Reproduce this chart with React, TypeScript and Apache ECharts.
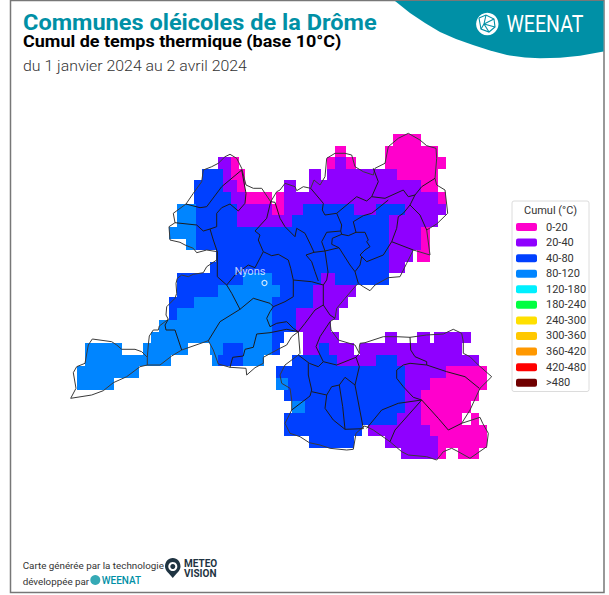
import React, { useEffect, useRef } from "react";
import * as echarts from "echarts";

const classLabels = ["0-20", "20-40", "40-80", "80-120", "120-180", "180-240", "240-300", "300-360", "360-420", "420-480", ">480"];
const classMins = [0, 20, 40, 80, 120, 180, 240, 300, 360, 420, 480];
const classMaxs = [20, 40, 80, 120, 180, 240, 300, 360, 420, 480, 100000];
const classColors = ["#ff00cc", "#8f00ff", "#0040ff", "#0085ff", "#00f0ff", "#00ff40", "#ffe000", "#ffc800", "#ff9800", "#ff0000", "#700000"];
const cellValues: Record<string, number> = { P: 10, V: 30, B: 60, L: 100 };

const cellRows = [
  "154-168P",
  "126-131P 150-176P",
  "69-75V 75-79P 122-126P 126-131V 131-136P 150-180P",
  "61-71B 71-75V 75-82P 113-119V 122-156V 156-176P",
  "57-71B 71-78V 78-82P 101-107V 113-168V 168-176P",
  "57-75B 75-82V 82-95P 97-101P 101-176V 176-180P",
  "49-58L 58-78B 78-95V 95-101P 101-110V 110-135B 135-146V 146-160B 160-180V",
  "49-58L 58-78B 78-105V 105-152B 152-176V",
  "45-58L 58-152B 152-168V 168-172P",
  "53-58L 58-152B 152-168V 168-172P",
  "68-152B 152-164V 166-172P",
  "65-152B 152-160V",
  "49-81B 81-95L 95-119B 119-126V 126-152B",
  "49-69B 69-99L 99-115B 115-136V",
  "45-57B 57-95L 95-115B 115-132V",
  "45-49B 49-95L 95-107B 107-128V",
  "40-95L 95-107B 107-124V",
  "36-95L 95-101B 110-128V 150-156V 166-172V 174-192V",
  "4-22L 32-54L 65-71L 71-81B 81-95L 95-99B 110-118V 118-123B 123-135V 138-188V",
  "4-46L 66-69L 69-81B 81-91L 105-127B 127-146V 146-156B 156-196V",
  "0-30L 97-160B 160-180V 180-200P",
  "0-18L 97-103L 103-160B 160-172V 172-200P",
  "101-160B 160-168V 168-196P",
  "105-111L 111-160B 160-168V 168-192P",
  "101-156B 156-168V 168-188P 192-196P",
  "101-139B 142-172V 172-200P",
  "113-135B 150-176V 176-200P",
  "158-176V 176-180P 186-196P",
];

const columnCount = 200;
const rowCount = 28;

const outerNorth = [[147.3,365],[147.3,357.3],[148.3,345],[149.3,336],[153.3,330],[158.3,330],[159.3,326],[168.3,319.3],[166,315],[166.7,306.7],[175,298.3],[176.7,293.3],[176,283.3],[177.3,278.3],[181.7,275],[188.3,276.7],[193.3,274.3],[203.3,272.7],[206.7,266.7],[216.7,260],[217.3,251.7],[206.7,250],[196.7,252.7],[193.3,248.3],[185,245],[180,242.3],[170,240],[169,226.7],[175,222.7],[173.3,213.3],[186,204],[193.3,193.3],[201.7,181.7],[203.3,170],[211.7,166.7],[218.3,163.3],[225,156.7],[230,154.3],[236.7,158.3],[241.7,168.3],[246,185],[253.3,188.3],[261.7,188.3],[265,193.3],[270.7,201.7],[276.7,191.7],[280,190],[285,183.3],[295,186.7],[296.7,190.7],[303.3,186.7],[310.7,188.3],[314,180],[320,185],[325,176.7],[326.7,158.3],[335,153.3],[345,153.3],[351.7,155],[355,166.7],[363.3,171.7],[373.3,175],[375,168.3],[385,163.3],[388.3,146.7],[398.3,138.3],[408.3,133.3],[420,140],[426.7,145.7],[436,148.3],[436.7,158.3],[435,178.3],[436.7,185],[445,190],[447.7,213.3],[436.7,224],[426.7,230],[430,255],[413.3,250],[406.7,263.3],[400,276.7],[388.3,277.7],[375,285],[370,290.7],[363.3,286.7],[358.3,283.3],[355,286.7],[345,298.3],[336.7,308.3],[335,318.3],[330,321.7],[331,330],[338.3,340],[355,345],[359.3,353.3],[359.3,347],[360,343.3],[365,342.7],[383.3,336.7],[396.7,336.7],[410,337.3],[426.7,335],[443.3,334],[453.3,329.3],[461.7,333.3],[463.3,341.7],[463.3,353.3],[470,356.7],[478.3,365],[491.7,376.7],[480,388.3],[470,410],[461.7,423.3],[480,417.3],[482.7,423.3],[488.3,433.3],[486.7,446.7],[470,458.3],[458.3,451.7],[451.7,448.3],[443.3,451.7],[436.7,460],[426.7,456.7],[408.3,455],[401.7,451.7],[390,441.7],[373.3,430],[366.7,426.7],[364,426],[356,433.3],[353.3,449.3],[346.7,450],[330,448.3],[320,445],[309.3,442.7],[300,436.7],[290,433.3],[285,423.3],[291.7,410],[291.7,400],[290,388.3],[281.7,383.3],[280,375],[285,365],[298.3,355],[300,353.3],[298.3,331.7]];
const outerSouth = [[298.3,331.7],[291.7,336.7],[286.7,345],[280,348.3],[263.3,357.3],[263.3,363.3],[255,367.7],[246.7,375],[246,368.3],[230,367.3],[218.3,364],[213.3,350],[208.3,340.7],[181.7,350],[171.7,356],[160,365],[147.3,365],[140,366.7],[126.7,376.7],[113.3,382.7],[103.3,390.7],[91.7,395],[70.7,398.3],[76,388.3],[73.3,372.7],[76.7,366.7],[85,363.3],[88.3,345],[92.3,339],[111.7,341.7],[116.7,345],[121.7,349.3],[135,349.3],[141.7,351.7],[147.3,357.3]];
const innerBoundaries = [
  [[168.3,319.3],[165,325],[166,330],[175,330],[181.7,350]],
  [[208.3,340.7],[220,321.7],[240,309.3],[253.3,298.3],[270,303.3],[273.3,306.7],[270,311.7],[266.7,318.3],[270,326.7],[276.7,323.3],[286.7,321.7],[293.3,328.3],[298.3,331.7]],
  [[230,367.3],[232.7,357.3],[243.3,356],[245,349.3],[253.3,347.3],[256.7,334],[270,332.7],[286.7,329.3],[298.3,331.7]],
  [[240,309.3],[231.7,293.3],[226.7,285]],
  [[175,222.7],[196.7,225],[203.3,231],[210,229],[213.3,240],[217.3,251.7],[217.3,276.7],[226.7,285],[235,275],[248.3,265],[255,267.7],[263.3,251.7],[258.3,240],[260,235],[255,231],[266.7,218.3],[270.7,201.7]],
  [[210,229],[216.7,226.7],[216.7,213.3],[221.7,207.7],[230,204],[238.3,211],[245,203.3],[246,193.3],[241.7,170]],
  [[186,204],[200,207.7],[206.7,206.7],[221.7,186.7],[241.7,170]],
  [[263.3,251.7],[271.7,255.7],[278.3,254.3],[288.3,260],[290.7,268.3],[293.3,280],[293.3,296.7],[285,301.7],[273.3,306.7]],
  [[293.3,280],[311.7,281.7],[323.3,285],[326.7,280],[328,272],[325,251]],
  [[323.3,285],[323.3,305],[315,310],[305,323.3],[298.3,331.7]],
  [[270.7,201.7],[275,202.3],[280,218.3],[285,226.7],[295,236.7],[296.7,228.3],[305,233.3],[310.7,245],[314,252.3]],
  [[314,252.3],[306,255],[311.7,261.7],[315,271.7],[318.3,281]],
  [[314,252.3],[325,251],[339,247.7]],
  [[310.7,188.3],[323.3,203.3],[322.3,210],[325,215],[336.7,213.3],[341.7,225],[340.7,231],[326.7,232.3],[321.7,241.7],[325,251]],
  [[336.7,213.3],[356.7,196.7],[366.7,201],[371.7,196.7],[385,198.3],[403.3,190],[408.3,196.7],[415,195],[421.7,186.7],[435,178.3]],
  [[371.7,196.7],[378.3,181.7],[373.3,168.3]],
  [[340.7,231],[341.7,234.3],[332.3,238.3],[331.7,244.3],[339,247.7],[350,265],[355,271.7],[358.3,283.3]],
  [[341.7,234.3],[348.3,235.7],[356,232.3],[365,232.3],[368.3,240],[366.7,241.7],[370,246.7],[365,250],[360,255],[361.7,256.7],[360,265],[355,271.7]],
  [[361.7,256.7],[366.7,261.7],[383.3,255],[391.7,241.7],[396.7,228.3],[398.3,216.7],[403.3,213.3],[410,205],[415,195]],
  [[410,205],[420,215],[426.7,230]],
  [[391.7,241.7],[413.3,250]],
  [[356,232.3],[353.3,221.7],[363.3,215.7],[371.7,213.3],[388.3,200]],
  [[323.3,305],[330,315],[335,318.3]],
  [[330,321.7],[320,336.7],[316,346.7],[323.3,361.7],[336.7,365],[356,357.3],[359.3,353.3]],
  [[298.3,355],[309.3,363.3],[318.3,366.7],[323.3,361.7]],
  [[308.3,363.3],[308.3,375],[311.7,390],[310,396],[291.7,410]],
  [[311.7,391.7],[326.7,395],[331.7,386.7],[339.3,385],[345,377.3],[355,385],[359.3,366.7],[356,357.3]],
  [[326.7,395],[325,408.3],[333.3,420],[345,429.3],[363.3,428.7]],
  [[339.3,385],[342.7,406.7],[345,429.3]],
  [[355,385],[361.7,420],[363.3,428.7]],
  [[366.7,428.3],[381.7,410],[398.3,403.3],[421.7,400]],
  [[421.7,400],[395,430],[390,441.7]],
  [[421.7,400],[438.3,418.3],[448.3,430],[461.7,423.3]],
  [[421.7,400],[413.3,397.3],[403.3,386.7],[396.7,378.3],[396.7,370],[403.3,365],[410,363.3],[426.7,365],[446.7,371.7],[465,376.7],[479.3,388.3]],
  [[410,337.3],[410.7,350],[415,356.7],[426.7,361.7],[426.7,365]],
];
const towns = [{ name: "Nyons", value: [264.5, 283] }];

function decodeRuns() {
  const out: number[][] = [];
  cellRows.forEach((row, r) => {
    row.split(" ").forEach((run) => {
      const m = run.match(/(\d+)-(\d+)([PVBL])/);
      if (m) out.push([+m[1], +m[2], r, cellValues[m[3]]]);
    });
  });
  return out;
}

const FONT = "Roboto";
const TEAL = "#0090a6";

function txt(text: string, x: number, y: number, fontSize: number, fill: string, fontWeight: any = 400, scaleX = 1, extra: any = {}) {
  return { type: "text", z: 20, x, y, scaleX, style: { text, x: 0, y: 0, fontSize, fill, fontWeight, fontFamily: FONT, textVerticalAlign: "middle", ...extra } };
}

const logoLines = [
  [[479,18],[486,15],[494,19],[495,27],[489,32],[481,29],[479,18]],
  [[486,15],[484,24],[494,19]],
  [[484,24],[481,29]],
  [[484,24],[495,27]],
  [[484,24],[489,32]],
];

export default function App() {
  const ref = useRef<HTMLDivElement>(null);
  useEffect(() => {
    const g: any = echarts.graphic;
    g.registerShape("weenatPin", g.extendPath("M172.8 558 C177.5 558 180.5 562 180.5 566.5 C180.5 571 176 573.5 172.8 578 C169.5 573.5 165 571 165 566.5 C165 562 168 558 172.8 558 Z", {}));
    const chart = echarts.init(ref.current!, undefined, { renderer: "svg" });
    const lineBase = {
      type: "line", xAxisIndex: 1, yAxisIndex: 1, showSymbol: false, symbol: "none", silent: true, clip: false,
      lineStyle: { color: "#1c1c1c", width: 1 }, z: 5,
    };
    chart.setOption({
      animation: false,
      backgroundColor: "#ffffff",
      grid: [
        { left: 77, top: 134, width: 410, height: 325.4 },
        { left: 0, top: 0, width: 609, height: 595 },
      ],
      xAxis: [
        { type: "value", gridIndex: 0, show: false, min: 0, max: columnCount },
        { type: "value", gridIndex: 1, show: false, min: 0, max: 609 },
      ],
      yAxis: [
        { type: "value", gridIndex: 0, show: false, inverse: true, min: 0, max: rowCount },
        { type: "value", gridIndex: 1, show: false, inverse: true, min: 0, max: 595 },
      ],
      visualMap: {
        type: "piecewise", seriesIndex: 0, dimension: 3, orient: "vertical", inverse: true, left: 511, top: 216.5,
        itemWidth: 21, itemHeight: 8, itemGap: 4.57, textGap: 9, padding: 5, selectedMode: false, hoverLink: false, align: "left",
        textStyle: { fontFamily: FONT, fontSize: 11, color: "#333333" },
        pieces: classLabels.map((label, i) => ({ min: classMins[i], max: classMaxs[i], label, color: classColors[i] })),
        z: 30,
      },
      series: [
        {
          type: "custom", xAxisIndex: 0, yAxisIndex: 0, data: decodeRuns(), silent: true, z: 2,
          encode: { x: [0, 1], y: 2 },
          renderItem: (_p: any, api: any) => {
            const a = api.coord([api.value(0), api.value(2)]);
            const b = api.coord([api.value(1), api.value(2) + 1]);
            const x0 = Math.round(a[0]);
            const y0 = Math.round(a[1]);
            return {
              type: "rect",
              shape: { x: x0, y: y0, width: Math.round(b[0]) - x0, height: Math.round(b[1]) - y0 },
              style: { fill: api.visual("color") },
            };
          },
        },
        { ...lineBase, lineStyle: { color: "#3a3a3a", width: 1 }, data: outerNorth },
        { ...lineBase, lineStyle: { color: "#3a3a3a", width: 1 }, data: outerSouth },
        ...innerBoundaries.map((p) => ({ ...lineBase, data: p })),
        {
          type: "scatter", xAxisIndex: 1, yAxisIndex: 1, data: towns, symbolSize: 5, silent: true, z: 8, clip: false,
          itemStyle: { color: "#0085ff", borderColor: "#ffffff", borderWidth: 1.2 },
          label: {
            show: true, formatter: "{b}", position: "left", offset: [9, -12], color: "#f4f8ff",
            fontFamily: FONT, fontSize: 11,
          },
        },
      ],
      graphic: [
        { type: "rect", z: 1, shape: { x: 10.5, y: 0.5, width: 593.5, height: 592 }, style: { fill: "none", stroke: "#777777", lineWidth: 1.5 } },
        { type: "polygon", z: 10, shape: { points: [[395,1],[410,13],[425,23],[440,32],[456,39],[473,45],[490,50.5],[507,55],[525,57.5],[540,58.3],[560,57.8],[580,55.8],[603.5,51.5],[603.5,1]] }, style: { fill: TEAL } },
        { type: "circle", z: 20, shape: { cx: 487.3, cy: 24, r: 11.2 }, style: { fill: "#ffffff" } },
        ...logoLines.map((points) => ({ type: "polyline", z: 21, shape: { points }, style: { fill: "none", stroke: TEAL, lineWidth: 1.1 } })),
        txt("WEENAT", 506.5, 24.3, 23, "#ffffff", 400, 0.85),
        txt("Communes oléicoles de la Drôme", 23, 22.3, 22, TEAL, 700, 1.07),
        txt("Cumul de temps thermique (base 10°C)", 23, 41.5, 16.5, "#000000", 700, 1.09),
        txt("du 1 janvier 2024 au 2 avril 2024", 23, 66.7, 14.3, "#333333", 300, 1.11),
        { type: "rect", z: 3, shape: { x: 512, y: 201, width: 77, height: 190.5, r: 2 }, style: { fill: "#ffffff", stroke: "#dcdcdc", lineWidth: 1 } },
        txt("Cumul (°C)", 550.5, 210.5, 11, "#333333", 400, 1, { textAlign: "center" }),
        txt("Carte générée par la technologie", 22.7, 565.7, 9.8, "#333333", 400),
        txt("développée par", 22.7, 581, 9.8, "#333333", 400),
        { type: "circle", z: 20, shape: { cx: 95.3, cy: 580, r: 5 }, style: { fill: "#35a9b5" } },
        txt("WEENAT", 101.7, 580.5, 10, TEAL, 500),
        { type: "weenatPin", z: 20, style: { fill: "#1f3442" } },
        { type: "ring", z: 21, shape: { cx: 172.8, cy: 566.5, r: 4.5, r0: 2.5 }, style: { fill: "#ffffff" } },
        txt("METEO", 184, 563, 10, "#1f3442", 700),
        txt("VISION", 184, 573, 10, "#1f3442", 700),
      ],
    });
    return () => chart.dispose();
  }, []);
  return <div ref={ref} style={{ position: "fixed", left: 0, top: 0, width: 609, height: 595 }} />;
}
